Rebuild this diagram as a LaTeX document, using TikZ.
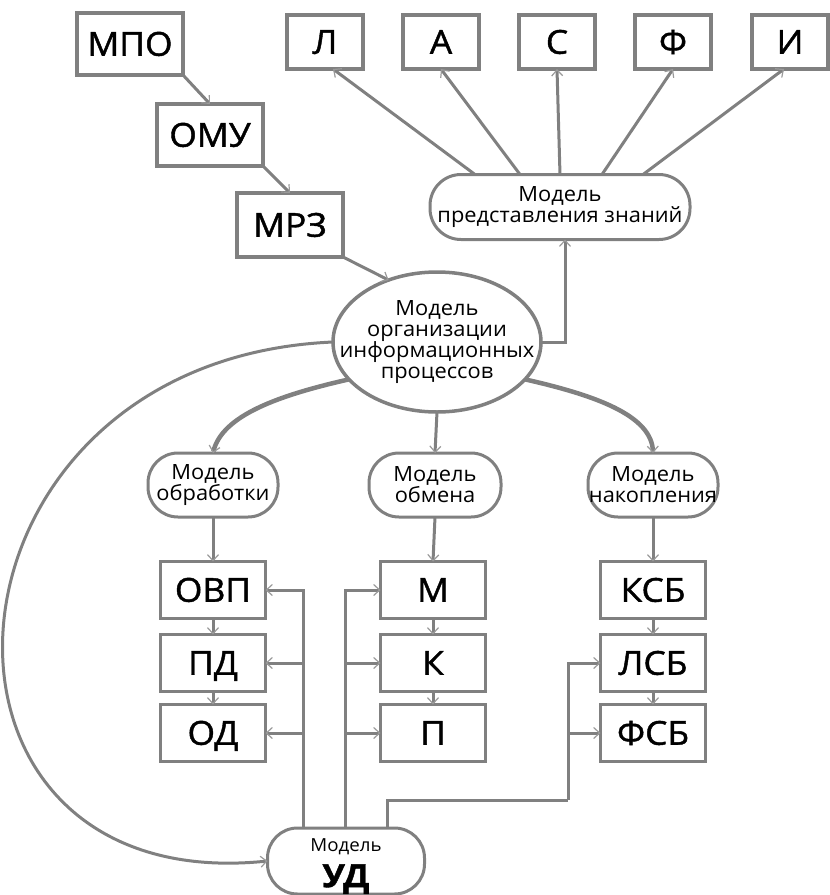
\documentclass[tikz,border=0pt]{standalone}
\usepackage{fontspec}
\setmainfont{Open Sans}
\newfontfamily\lblfont{Open Sans}[FakeBold=1.3,FakeStretch=1.07]
\newfontfamily\txtfont{Open Sans}[FakeStretch=1.04]
\usetikzlibrary{arrows.meta,shapes.geometric,calc}
\definecolor{edge}{HTML}{808080}
\definecolor{tipc}{HTML}{9A9A9A}
\newcommand\biglbl{\lblfont\fontsize{33}{38}\selectfont}
\newcommand\smalllbl{\txtfont\fontsize{21}{21}\selectfont}
\begin{document}
\begin{tikzpicture}[x=1pt,y=-1pt,
  every node/.style={inner sep=0pt, outer sep=0pt},
  box/.style={draw=edge, line width=3.5pt, fill=white, text=black,
    minimum width=105pt, minimum height=57pt, font=\biglbl,
    text height=23.5pt, text depth=0pt},
  tbox/.style={box, minimum width=76pt, minimum height=54pt},
  pill/.style={draw=edge, line width=3pt, fill=white, text=black,
    rounded corners=30pt, align=center, font=\smalllbl},
  oval/.style={ellipse, draw=edge, line width=3.5pt, fill=white,
    minimum width=208pt, minimum height=140pt},
  caption/.style={text=black, align=center, font=\smalllbl},
  conn/.style={draw=edge, line width=3pt},
  heavy/.style={draw=edge, line width=4.5pt},
  arr/.style={-{Straight Barb[length=6pt,width=11pt,line width=1.2pt,color=tipc]}}
]
\useasboundingbox (0,0) rectangle (830,895);

% chain of the upper left boxes
\node[box, minimum width=106pt, minimum height=62pt] (mpo) at (130,44) {МПО};
\node[box, minimum width=106pt, minimum height=62pt] (omu) at (210,135) {ОМУ};
\node[box, minimum width=106pt, minimum height=64pt] (mrz) at (290,225) {МРЗ};

% top row
\node[tbox] (l)  at (325,42) {Л};
\node[tbox] (a)  at (441,42) {А};
\node[tbox] (c)  at (557,42) {С};
\node[tbox] (f)  at (673,42) {Ф};
\node[tbox] (i)  at (790,42) {И};

\node[pill, minimum width=260pt, minimum height=65pt, rounded corners=31pt] (knz) at (560,207)
  {Модель\\представления знаний};

% central ellipse with its caption
\node[oval] (org) at (437,342) {};
\node[caption] (orgtxt) at (org.center) {Модель\\организации\\информационных\\процессов};

% middle row of models
\node[pill, minimum width=130pt, minimum height=64pt] (obr) at (213,485) {Модель\\обработки};
\node[pill, minimum width=132pt, minimum height=64pt] (obm) at (435,485) {Модель\\обмена};
\node[pill, minimum width=130pt, minimum height=64pt] (nak) at (653,485) {Модель\\накопления};

% three columns
\node[box] (ovp) at (213,590) {ОВП};
\node[box] (pd)  at (213,663) {ПД};
\node[box] (od)  at (213,733) {ОД};
\node[box] (m)   at (433,590) {М};
\node[box] (k)   at (433,663) {К};
\node[box] (p)   at (433,733) {П};
\node[box] (ksb) at (653,590) {КСБ};
\node[box] (lsb) at (653,663) {ЛСБ};
\node[box] (fsb) at (653,733) {ФСБ};

% control model
\node[pill, minimum width=157pt, minimum height=66pt, rounded corners=30pt] (ud) at (346,861) {};
\node[caption] (udtxt) at ($(ud.center)+(0,5)$)
  {{\fontsize{18}{18}\selectfont Модель}\\[9pt]{\lblfont\fontsize{32}{32}\selectfont\bfseries УД}};

% upper left chain
\draw[conn,arr] (mpo.south east) -- (omu.north);
\draw[conn,arr] (omu.south east) -- (mrz.north);
\draw[conn,arr] (mrz.south east) -- (org.128);

% knowledge representation fan
\draw[conn,arr] (org.east) -| ([xshift=5pt]knz.south);
\draw[conn,arr] ([xshift=-85pt]knz.north) -- ([xshift=8pt]l.south);
\draw[conn,arr] ([xshift=-40pt]knz.north) -- (a.south);
\draw[conn,arr] (knz.north) -- (c.south);
\draw[conn,arr] ([xshift=42pt]knz.north) -- (f.south);
\draw[conn,arr] ([xshift=83pt]knz.north) -- ([xshift=-6pt]i.south);

% organisation to the three models
\draw[heavy,arr] (org.203) .. controls (280,395) and (222,415) .. (obr.north);
\draw[conn,arr] (org.south) -- (obm.north);
\draw[heavy,arr] (org.337) .. controls (594,395) and (652,415) .. (nak.north);

% columns
\draw[conn,arr] (obr.south) -- (ovp.north);
\draw[conn,arr] (ovp.south) -- (pd.north);
\draw[conn,arr] (pd.south) -- (od.north);
\draw[conn,arr] (obm.south) -- (m.north);
\draw[conn,arr] (m.south) -- (k.north);
\draw[conn,arr] (k.south) -- (p.north);
\draw[conn,arr] (nak.south) -- (ksb.north);
\draw[conn,arr] (ksb.south) -- (lsb.north);
\draw[conn,arr] (lsb.south) -- (fsb.north);

% feedback loop into the control model
\draw[conn,arr] (org.west) .. controls (-80,360) and (-110,900) .. (ud.west);

% buses from the control model
\coordinate (lb) at ($(ud.north)+(-43,0)$);
\coordinate (mb) at ($(ud.north)+(-1,0)$);
\coordinate (rb) at ($(ud.north)+(41,0)$);
\coordinate (rj) at (568,800);
\draw[conn,arr] (lb) |- (ovp.east);
\draw[conn,arr] (lb |- pd.east) -- (pd.east);
\draw[conn,arr] (lb |- od.east) -- (od.east);
\draw[conn,arr] (mb) |- (m.west);
\draw[conn,arr] (mb |- k.west) -- (k.west);
\draw[conn,arr] (mb |- p.west) -- (p.west);
\draw[conn] (rb) |- (rj);
\draw[conn,arr] (rj) |- (lsb.west);
\draw[conn,arr] (rj |- fsb.west) -- (fsb.west);
\end{tikzpicture}
\end{document}
